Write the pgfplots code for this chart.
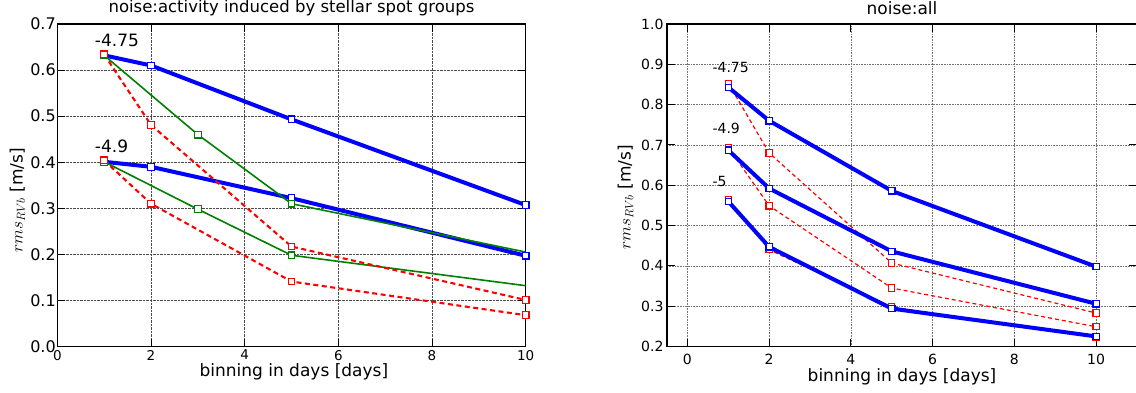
\documentclass[border=0pt]{standalone}
\usepackage{pgfplots}
\pgfplotsset{compat=1.18}
\usepackage{fontspec}
\setmainfont{DejaVu Sans}
\definecolor{mgreen}{rgb}{0,0.5,0}
\pgfplotsset{
  common/.style={
    scale only axis, anchor=south west,
    tick align=inside, major tick length=8pt,
    grid=major,
    major grid style={densely dotted, black!70, line width=0.6pt},
    axis line style={line width=1.2pt},
    every tick/.style={black, line width=0.9pt},
    /pgf/number format/assume math mode=true,
    xtick={0,2,4,6,8,10},
    yticklabel style={/pgf/number format/fixed, /pgf/number format/fixed zerofill, /pgf/number format/precision=1},
    clip=true,
  },
  bl/.style={blue, line width=4pt, mark=square*, mark size=#1,
    mark options={solid, fill=white, draw=blue, line width=1.2pt}},
  rd/.style={red, line width=2.1pt, dash pattern=on 5pt off 3.5pt, mark=square*, mark size=#1,
    mark options={solid, fill=white, draw=red, line width=1.2pt}},
  rdt/.style={red, line width=1.2pt, dash pattern=on 4pt off 3pt, mark=square*, mark size=#1,
    mark options={solid, fill=white, draw=red, line width=1.1pt}},
  gr/.style={mgreen, line width=1.6pt, mark=square*, mark size=3.35pt, mark indices={1,2,3},
    mark options={solid, fill=white, draw=mgreen, line width=1.2pt}},
}
\begin{document}
\begin{tikzpicture}
\useasboundingbox (0,0) rectangle (1136pt,392pt);
% ---------------- left panel
\begin{axis}[common,
  at={(57.3pt,45.5pt)}, width=468.4pt, height=322.5pt,
  xmin=0, xmax=10, ymin=0, ymax=0.7,
  ytick={0,0.1,0.2,0.3,0.4,0.5,0.6,0.7},
  xticklabel style={font=\fontsize{13.5}{15}\selectfont},
  yticklabel style={font=\fontsize{16}{18}\selectfont, xshift=2pt},
  title={noise:activity induced by stellar spot groups},
  title style={font=\fontsize{16.5}{20}\selectfont, at={(0.5,1)}, anchor=base, yshift=5.5pt, inner sep=0pt},
  xlabel={binning in days [days]},
  xlabel style={font=\fontsize{17}{20}\selectfont, at={(axis description cs:0.505,0)}, anchor=base, yshift=-29.5pt, inner sep=0pt},
  ylabel={$rms_{RVb}$ [m/s]},
  ylabel style={font=\fontsize{17}{20}\selectfont, at={(axis description cs:-0.085,0.453)}, anchor=center, inner sep=0pt},
]
\addplot[bl=3.35pt] coordinates {(1,0.632)(2,0.610)(5,0.493)(10,0.307)};
\addplot[bl=3.35pt] coordinates {(1,0.401)(2,0.390)(5,0.322)(10,0.197)};
\addplot[gr] coordinates {(1,0.632)(3,0.460)(5,0.310)(10,0.205)};
\addplot[gr] coordinates {(1,0.401)(3,0.298)(5,0.198)(10,0.132)};
\addplot[rd=3.35pt] coordinates {(1,0.634)(2,0.481)(5,0.217)(10,0.101)};
\addplot[rd=3.35pt] coordinates {(1,0.404)(2,0.310)(5,0.141)(10,0.068)};
\node[anchor=base west, inner sep=0pt, font=\fontsize{17}{20}\selectfont] at (axis cs:0.80,0.651) {-4.75};
\node[anchor=base west, inner sep=0pt, font=\fontsize{17}{20}\selectfont] at (axis cs:0.80,0.422) {-4.9};
\end{axis}
% ---------------- right panel
\begin{axis}[common,
  at={(667pt,45.5pt)}, width=470pt, height=322.5pt,
  xmin=-0.5, xmax=11, ymin=0.2, ymax=1.0,
  ytick={0.2,0.3,0.4,0.5,0.6,0.7,0.8,0.9,1.0},
  major grid style={densely dotted, black!55, line width=0.6pt},
  xticklabel style={font=\fontsize{14}{16}\selectfont, yshift=-4.5pt},
  yticklabel style={font=\fontsize{14}{16}\selectfont},
  title={noise:all},
  title style={font=\fontsize{17}{20}\selectfont, at={(0.5,1)}, anchor=base, yshift=3.3pt, inner sep=0pt},
  xlabel={binning in days [days]},
  xlabel style={font=\fontsize{17}{20}\selectfont, at={(axis description cs:0.5,0)}, anchor=base, yshift=-35pt, inner sep=0pt},
  ylabel={$rms_{RVb}$ [m/s]},
  ylabel style={font=\fontsize{17}{20}\selectfont, at={(axis description cs:-0.0883,0.463)}, anchor=center, inner sep=0pt},
]
\addplot[rdt=3.15pt] coordinates {(1,0.853)(2,0.680)(5,0.407)(10,0.283)};
\addplot[rdt=3.15pt] coordinates {(1,0.694)(2,0.549)(5,0.345)(10,0.249)};
\addplot[rdt=3.15pt] coordinates {(1,0.564)(2,0.440)(5,0.298)(10,0.223)};
\addplot[bl=3.15pt] coordinates {(1,0.843)(2,0.760)(5,0.586)(10,0.398)};
\addplot[bl=3.15pt] coordinates {(1,0.687)(2,0.592)(5,0.436)(10,0.306)};
\addplot[bl=3.15pt] coordinates {(1,0.560)(2,0.447)(5,0.294)(10,0.225)};
\node[anchor=base west, inner sep=0pt, font=\fontsize{14}{16}\selectfont] at (axis cs:0.61,0.879) {-4.75};
\node[anchor=base west, inner sep=0pt, font=\fontsize{14}{16}\selectfont] at (axis cs:0.61,0.728) {-4.9};
\node[anchor=base west, inner sep=0pt, font=\fontsize{14}{16}\selectfont] at (axis cs:0.61,0.598) {-5};
\end{axis}
\end{tikzpicture}
\end{document}
